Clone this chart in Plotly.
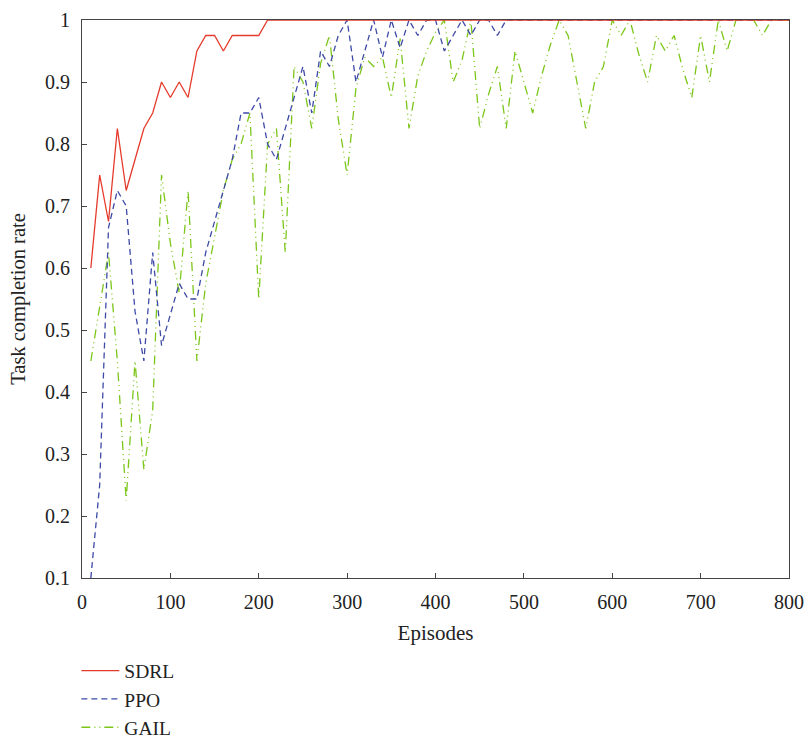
import plotly.graph_objects as go

# Episode index shared by all three curves
episodes = list(range(10, 801, 10))

sdrl = [0.6, 0.75, 0.675, 0.825, 0.725, 0.775, 0.825, 0.85, 0.9, 0.875,
        0.9, 0.875, 0.95, 0.975, 0.975, 0.95, 0.975, 0.975, 0.975, 0.975] + [1.0] * 60

ppo = [0.1, 0.25, 0.665, 0.725, 0.70, 0.53, 0.45, 0.625, 0.475, 0.525,
       0.575, 0.55, 0.55, 0.625, 0.675, 0.725, 0.775, 0.85, 0.85, 0.875,
       0.8, 0.775, 0.825, 0.875, 0.925, 0.85, 0.95, 0.925, 0.975, 1.0,
       0.9, 0.95, 1.0, 0.94, 1.0, 0.955, 1.0, 0.975, 1.0, 1.0,
       0.95, 0.975, 1.0, 0.975, 1.0, 1.0, 0.975, 1.0] + [1.0] * 32

gail = [0.45, 0.54, 0.625, 0.45, 0.225, 0.45, 0.275, 0.37, 0.75, 0.64,
        0.56, 0.725, 0.45, 0.575, 0.65, 0.725, 0.775, 0.8, 0.85, 0.55,
        0.8, 0.825, 0.625, 0.925, 0.9, 0.825, 0.93, 0.975, 0.84, 0.75,
        0.89, 0.94, 0.925, 0.94, 0.875, 0.97, 0.825, 0.91, 0.95, 0.98,
        1.0, 0.9, 0.935, 1.0, 0.825, 0.88, 0.925, 0.825, 0.95, 0.9,
        0.85, 0.91, 0.96, 1.0, 0.975, 0.9, 0.825, 0.9, 0.925, 1.0,
        0.975, 1.0, 0.945, 0.9, 0.975, 0.95, 0.975, 0.92, 0.875, 0.975,
        0.9, 1.0, 0.95, 1.0, 1.0, 1.0, 0.975, 1.0, 1.0, 1.0]

y_ticks = [0.1, 0.2, 0.3, 0.4, 0.5, 0.6, 0.7, 0.8, 0.9, 1.0]
y_tick_text = ["0.1", "0.2", "0.3", "0.4", "0.5", "0.6", "0.7", "0.8", "0.9", "1"]
x_ticks = [0, 100, 200, 300, 400, 500, 600, 700, 800]

FONT = "Liberation Serif, Times New Roman, serif"
TEXT = "#222222"

fig = go.Figure()
fig.add_trace(go.Scatter(x=episodes, y=gail, mode="lines", name="GAIL", legendgroup="c", legendrank=3,
                         line=dict(color="#7cc61a", width=1.3, dash="9px,4px,1px,4px,1px,4px")))
fig.add_trace(go.Scatter(x=episodes, y=ppo, mode="lines", name="PPO", legendgroup="b", legendrank=2,
                         line=dict(color="#3d4aa6", width=1.3, dash="6px,4px")))
fig.add_trace(go.Scatter(x=episodes, y=sdrl, mode="lines", name="SDRL", legendgroup="a", legendrank=1,
                         line=dict(color="#e53b2c", width=1.3)))

axis_common = dict(showline=True, linecolor="#444444", linewidth=1.2, mirror=True,
                   ticks="inside", ticklen=5, tickwidth=1.2, tickcolor="#444444",
                   showgrid=False, zeroline=False,
                   tickfont=dict(family=FONT, size=20, color=TEXT))

fig.update_xaxes(range=[0, 800], tickvals=x_ticks, ticklabelstandoff=6,
                 title=dict(text="Episodes", font=dict(family=FONT, size=21, color=TEXT), standoff=13),
                 **axis_common)
fig.update_yaxes(range=[0.1, 1.0], tickvals=y_ticks, ticktext=y_tick_text, ticklabelstandoff=7,
                 title=dict(text="Task completion rate", font=dict(family=FONT, size=20.5, color=TEXT), standoff=13),
                 **axis_common)

fig.update_layout(
    width=808, height=740,
    margin=dict(l=82, r=19, t=20, b=162, autoexpand=False),
    plot_bgcolor="white", paper_bgcolor="white",
    font=dict(family=FONT, size=20, color=TEXT),
    legend=dict(orientation="v", x=-0.008, y=-0.1315, xanchor="left", yanchor="top",
                tracegroupgap=0, itemwidth=38, bgcolor="rgba(0,0,0,0)",
                font=dict(family=FONT, size=19.5, color=TEXT), traceorder="normal"),
)

fig.write_html("out.html")
